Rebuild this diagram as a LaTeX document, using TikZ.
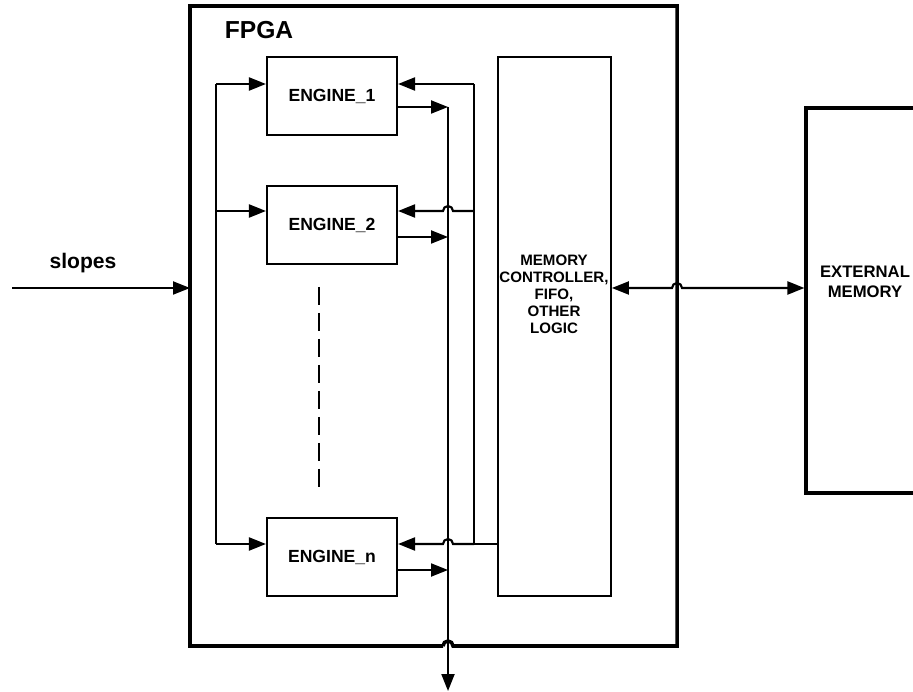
\documentclass[tikz,border=0pt]{standalone}
\usepackage{fontspec}
\setmainfont{Liberation Sans}
\usetikzlibrary{calc,arrows.meta,positioning}

\begin{document}
\begin{tikzpicture}[x=0.02cm, y=-0.02cm, line width=1.2pt,
    >={Triangle[length=3.4mm,width=2.6mm]},
    every node/.style={font=\bfseries},
    engine/.style={draw, inner sep=0pt, minimum width=2.6cm, minimum height=1.56cm,
      font=\fontsize{10}{12}\selectfont\bfseries},
    block/.style={draw, inner sep=0pt},
    blocktext/.style={align=center, inner sep=0pt}]
  \useasboundingbox (0,0) rectangle (913,692);

  % corners and bus points
  \coordinate (fpgaSW) at (190,646);
  \coordinate (fpgaNE) at (677,6);
  \coordinate (src) at (12,288);
  \coordinate (in1) at (216,84);
  \coordinate (in2) at (216,211);
  \coordinate (inn) at (216,544);
  \coordinate (ret1) at (474,84);
  \coordinate (ret2) at (474,211);
  \coordinate (retn) at (474,544);
  \coordinate (out1) at (448,107);
  \coordinate (out2) at (448,237);
  \coordinate (outn) at (448,570);
  \coordinate (sink) at (448,691);

  % fpga border, hop over the output bus
  \draw[line width=2pt] ($(out1 |- fpgaSW)+(-5,0)$) -- (fpgaSW) -- (fpgaSW |- fpgaNE)
    -- (fpgaNE) -- (fpgaNE |- fpgaSW) -- ($(out1 |- fpgaSW)+(5,0)$)
    arc[start angle=0, end angle=180, radius=1mm];
  \node[font=\fontsize{14}{16}\selectfont\bfseries] (fpga) at (259,30) {FPGA};

  \node[engine] (e1) at (332,96) {ENGINE\_1};
  \node[engine] (e2) at (332,225) {ENGINE\_2};
  \node[engine] (en) at (332,557) {ENGINE\_n};
  \draw[line width=1.5pt, dash pattern=on 3.6mm off 1.6mm] (319,287) -- (319,487);

  \node[block, line width=1pt, minimum width=2.26cm, minimum height=10.78cm] (mc) at (554.5,326.5) {};
  \node[blocktext, font=\fontsize{8.6}{9.7}\selectfont\bfseries] (mctext) at (554,294)
    {MEMORY\\CONTROLLER,\\FIFO,\\OTHER\\LOGIC};

  \node[block, line width=1.8pt, minimum width=2.36cm, minimum height=7.7cm] (ext) at (865,300.5) {};
  \node[blocktext, font=\fontsize{9.5}{11.4}\selectfont\bfseries] (exttext) at (865,282)
    {EXTERNAL\\MEMORY};

  \node[font=\fontsize{12}{14}\selectfont\bfseries] (slopes) at (83,263) {slopes};
  \draw[->] (src) -- (fpgaSW |- src);

  % input bus
  \draw (in1) -- (inn);
  \foreach \e/\p in {e1/in1, e2/in2, en/inn}
    \draw[->] (\p) -- (\e.west |- \p);

  % return bus from the controller
  \draw (ret1) -- (retn) -- (mc.west |- retn);
  \draw[->] (ret1) -- (e1.east |- ret1);
  \draw[->] (ret2) -- ($(out1 |- ret2)+(5,0)$) arc[start angle=0, end angle=180, radius=1mm]
    -- (e2.east |- ret2);
  \draw[->] (retn) -- ($(out1 |- retn)+(5,0)$) arc[start angle=0, end angle=180, radius=1mm]
    -- (en.east |- retn);

  % output bus
  \foreach \e/\p in {e1/out1, e2/out2, en/outn}
    \draw[->] (\e.east |- \p) -- (\p);
  \draw[->] (out1) -- (sink);

  % link to external memory
  \draw[<->] (mc.east |- src) -- ($(fpgaNE |- src)+(-5,0)$)
    arc[start angle=180, end angle=0, radius=1mm] -- (ext.west |- src);
\end{tikzpicture}
\end{document}
